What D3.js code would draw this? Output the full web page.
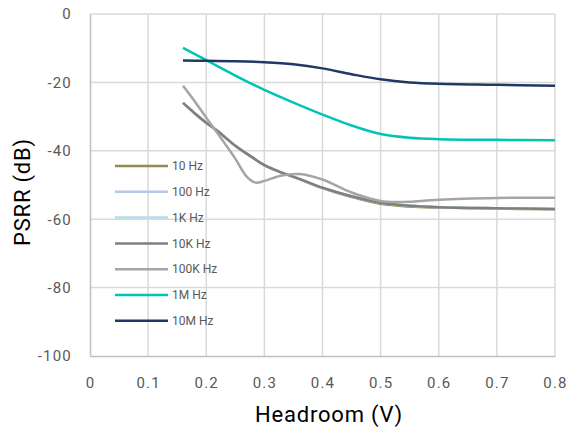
<!DOCTYPE html>
<html><head><meta charset="utf-8">
<script src="https://cdn.jsdelivr.net/npm/d3@7"></script>
<style>body{margin:0;background:#fff}svg{display:block}text{font-family:Roboto,"DejaVu Sans",sans-serif}</style>
</head><body><svg id="c" width="567" height="428"></svg>
<script>
const seriesNames = ["10 Hz","100 Hz","1K Hz","10K Hz","100K Hz","1M Hz","10M Hz"];
const colors = ["#948a54","#b4c7e7","#b7dee8","#7f7f7f","#a5a5a5","#00c5b5","#203864"];
const xTicks = [0,0.1,0.2,0.3,0.4,0.5,0.6,0.7,0.8];
const yTicks = [0,-20,-40,-60,-80,-100];

const x10k = [0.16,0.18,0.2,0.22,0.25,0.28,0.3,0.33,0.36,0.4,0.45,0.5,0.55,0.6,0.7,0.8];
const y10Hz  = [-26,-29,-31.8,-34.3,-38.5,-42,-44.2,-46.4,-48.3,-50.9,-53.5,-55.5,-56.3,-56.6,-56.9,-57.1];
const y100Hz = [-26,-29,-31.8,-34.3,-38.5,-42,-44.2,-46.4,-48.2,-50.8,-53.3,-55.2,-56.1,-56.5,-56.8,-57];
const y1kHz  = [-26,-29,-31.8,-34.3,-38.5,-42,-44.2,-46.4,-48.2,-50.8,-53.3,-55.2,-56.1,-56.5,-56.8,-57];
const y10kHz = [-26,-29,-31.8,-34.3,-38.5,-42,-44.2,-46.4,-48.2,-50.8,-53.3,-55.2,-56.1,-56.5,-56.8,-57];
const x100k = [0.16,0.18,0.2,0.22,0.25,0.27,0.285,0.3,0.33,0.36,0.4,0.45,0.5,0.53,0.55,0.6,0.7,0.8];
const y100kHz = [-21,-25.5,-30.3,-35,-42.3,-47.6,-49.3,-48.8,-47.2,-46.8,-48.4,-52.2,-54.7,-55,-54.9,-54.3,-53.8,-53.7];
const xHi = [0.16,0.2,0.25,0.3,0.35,0.4,0.45,0.5,0.55,0.6,0.7,0.8];
const y1MHz  = [-9.9,-13.5,-18,-22.2,-25.9,-29.4,-32.6,-35.1,-36.2,-36.6,-36.8,-36.9];
const y10MHz = [-13.6,-13.7,-13.8,-14.1,-14.7,-15.9,-17.6,-19.1,-20,-20.4,-20.7,-21];

const seriesX = [x10k,x10k,x10k,x10k,x100k,xHi,xHi];
const seriesY = [y10Hz,y100Hz,y1kHz,y10kHz,y100kHz,y1MHz,y10MHz];

const svg = d3.select("#c");
const L=90,R=555,T=14,B=356;
const x = d3.scaleLinear().domain([0,0.8]).range([L,R]);
const y = d3.scaleLinear().domain([-100,0]).range([B,T]);

// gridlines
svg.append("g").selectAll("line").data(xTicks.slice(1)).join("line")
  .attr("x1",d=>x(d)).attr("x2",d=>x(d)).attr("y1",T).attr("y2",B)
  .attr("stroke","#d9d9d9").attr("stroke-width",1.5);
svg.append("g").selectAll("line").data(yTicks.slice(0,-1)).join("line")
  .attr("x1",L).attr("x2",R).attr("y1",d=>y(d)).attr("y2",d=>y(d))
  .attr("stroke","#d9d9d9").attr("stroke-width",1.5);

// axes
const xAxis = svg.append("g").attr("transform",`translate(0,${B})`)
  .call(d3.axisBottom(x).tickValues(xTicks).tickSize(0).tickPadding(21).tickFormat(d=>d===0?"0":d3.format(".1f")(d)));
const yAxis = svg.append("g").attr("transform",`translate(${L},0)`)
  .call(d3.axisLeft(y).tickValues(yTicks).tickSize(0).tickPadding(18).tickFormat(d=>d===0?"0":"-"+Math.abs(d)));
[xAxis,yAxis].forEach(a=>{
  a.select(".domain").attr("stroke","#bfbfbf").attr("stroke-width",1.5);
  a.selectAll("text").attr("fill","#595959").style("font-size","15px")
   .style("letter-spacing","1.2px").style("font-family","Roboto, sans-serif");
});

// lines
const line = d3.line().curve(d3.curveCatmullRom.alpha(0.5));
seriesNames.forEach((n,i)=>{
  const pts = seriesX[i].map((xv,j)=>[x(xv),y(seriesY[i][j])]);
  svg.append("path").attr("d",line(pts)).attr("fill","none")
    .attr("stroke",colors[i]).attr("stroke-width",2.5);
});

// legend
const lg = svg.append("g");
seriesNames.forEach((n,i)=>{
  const ly = 166 + i*25.8;
  lg.append("line").attr("x1",115).attr("x2",168).attr("y1",ly).attr("y2",ly)
    .attr("stroke",colors[i]).attr("stroke-width",2.5);
  lg.append("text").attr("x",172).attr("y",ly).attr("dy","0.35em")
    .attr("fill","#595959").style("font-size","12px").text(n);
});

// titles
svg.append("text").attr("x",329).attr("y",422).attr("text-anchor","middle")
  .style("font-size","22px").style("font-weight","400").style("letter-spacing","0.8px").attr("fill","#000").text("Headroom (V)");
svg.append("text").attr("transform",`translate(29.5,192) rotate(-90)`).attr("text-anchor","middle")
  .style("font-size","22px").style("font-weight","400").style("letter-spacing","0.8px").attr("fill","#000").text("PSRR (dB)");
</script></body></html>
